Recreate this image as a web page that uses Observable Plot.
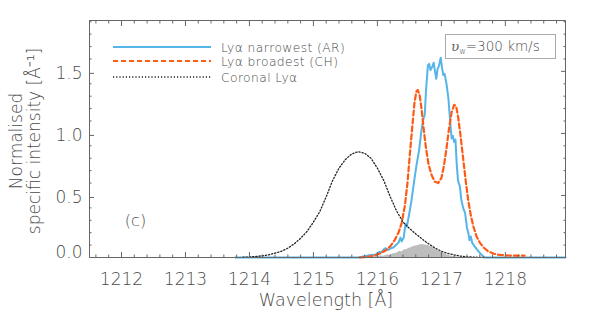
<!DOCTYPE html>
<html><head><meta charset="utf-8">
<script src="https://cdn.jsdelivr.net/npm/d3@7"></script>
<script src="https://cdn.jsdelivr.net/npm/@observablehq/plot@0.6"></script>
<style>body{margin:0;background:#fff}svg{display:block}svg text{font-weight:200}</style>
</head><body><div id="chart"></div>
<script>
// Lyα narrowest (AR) profile
const blueWl  = [1213.78,1215.70,1215.80,1215.90,1215.98,1216.03,1216.06,1216.10,1216.13,1216.17,1216.21,1216.25,1216.29,1216.33,1216.36,1216.38,1216.41,1216.44,1216.46,1216.49,1216.53,1216.57,1216.61,1216.65,1216.69,1216.72,1216.74,1216.76,1216.79,1216.81,1216.83,1216.86,1216.88,1216.90,1216.92,1216.94,1216.96,1216.99,1217.01,1217.03,1217.05,1217.08,1217.11,1217.14,1217.16,1217.18,1217.20,1217.22,1217.24,1217.26,1217.29,1217.31,1217.34,1217.37,1217.40,1217.42,1217.44,1217.46,1217.48,1217.52,1217.58,1217.64,1217.68,1218.94];
const blueVal = [0,0,0.01,0.02,0.025,0.045,0.04,0.065,0.075,0.06,0.075,0.08,0.10,0.12,0.16,0.13,0.16,0.27,0.25,0.33,0.45,0.60,0.74,0.86,1.03,1.12,1.15,1.35,1.55,1.56,1.51,1.54,1.57,1.50,1.44,1.52,1.54,1.61,1.53,1.47,1.48,1.40,1.28,1.08,0.96,0.98,0.93,0.95,0.75,0.62,0.57,0.47,0.40,0.36,0.24,0.20,0.14,0.17,0.12,0.09,0.05,0.015,0,0];
// Lyα broadest (CH) profile
const orangeWl  = [1215.72,1215.85,1215.95,1216.05,1216.13,1216.20,1216.27,1216.33,1216.38,1216.43,1216.47,1216.51,1216.55,1216.58,1216.61,1216.63,1216.66,1216.69,1216.72,1216.76,1216.80,1216.85,1216.90,1216.95,1217.00,1217.04,1217.08,1217.12,1217.16,1217.20,1217.23,1217.26,1217.30,1217.34,1217.38,1217.42,1217.46,1217.50,1217.55,1217.60,1217.66,1217.73,1217.82,1217.92,1218.05,1218.30];
const orangeVal = [0,0.005,0.015,0.035,0.057,0.09,0.14,0.20,0.28,0.42,0.60,0.85,1.08,1.25,1.34,1.35,1.31,1.20,1.05,0.88,0.75,0.66,0.61,0.60,0.64,0.74,0.88,1.04,1.17,1.23,1.22,1.14,0.98,0.80,0.62,0.46,0.34,0.25,0.17,0.12,0.08,0.05,0.03,0.02,0.016,0.015];
// Coronal Lyα profile
const coronaWl  = [1213.90,1214.00,1214.10,1214.20,1214.30,1214.40,1214.50,1214.60,1214.70,1214.80,1214.90,1215.00,1215.10,1215.20,1215.30,1215.40,1215.50,1215.60,1215.70,1215.80,1215.90,1216.00,1216.10,1216.20,1216.30,1216.40,1216.50,1216.60,1216.70,1216.80,1216.90,1217.00,1217.10,1217.20,1217.30,1217.40,1217.50,1217.60,1217.68];
const coronaVal = [0.002,0.004,0.008,0.014,0.022,0.035,0.05,0.075,0.11,0.155,0.21,0.285,0.37,0.49,0.62,0.72,0.79,0.835,0.853,0.84,0.80,0.72,0.62,0.49,0.375,0.286,0.235,0.19,0.148,0.11,0.077,0.05,0.033,0.021,0.011,0.006,0.003,0.001,0];
// Grey filled profile
const greyWl  = [1215.70,1215.80,1215.90,1216.00,1216.05,1216.10,1216.15,1216.20,1216.25,1216.30,1216.35,1216.38,1216.42,1216.46,1216.50,1216.54,1216.58,1216.62,1216.66,1216.70,1216.74,1216.78,1216.82,1216.86,1216.90,1216.95,1217.00,1217.05,1217.10,1217.15,1217.20,1217.30,1217.40];
const greyVal = [0,0.003,0.004,0.008,0.012,0.01,0.02,0.018,0.03,0.035,0.05,0.045,0.06,0.065,0.075,0.082,0.09,0.095,0.10,0.105,0.10,0.098,0.09,0.08,0.07,0.055,0.042,0.03,0.02,0.012,0.007,0.003,0];

const xTicks = [1212,1213,1214,1215,1216,1217,1218];
const yTicks = [0.5,1.0,1.5];
const yZero = [0];
const legendLabels = ["Lyα narrowest (AR)","Lyα broadest (CH)","Coronal Lyα"];
const boxLabel = "=300 km/s";
const panelLabel = "(c)";
const xTitle = "Wavelength [Å]";
const yTitle = ["Normalised","specific intensity [Å⁻¹]"];

const FONT = "'DejaVu Sans ExtraLight', 'DejaVu Sans'";
const pts = (w, v) => w.map((x, i) => ({x, y: v[i]}));
const xMinor = d3.range(1211.6, 1218.95, 0.2).filter(v => Math.abs(v - Math.round(v)) > 0.05);
const yMinor = d3.range(0.1, 1.91, 0.1).filter(v => Math.abs(v*2 - Math.round(v*2)) > 0.05);
const blank = () => "";
const tickCol = "#666";

const plot = Plot.plot({
  width: 598, height: 328,
  marginTop: 20, marginRight: 33, marginBottom: 71, marginLeft: 89,
  style: {fontFamily: FONT, fontSize: "17px", color: "#4a4a4a", background: "#fff"},
  x: {domain: [1211.5, 1218.94]},
  y: {domain: [0, 1.91]},
  marks: [
    Plot.areaY(pts(greyWl, greyVal), {x: "x", y: "y", fill: "#bdbdbd"}),
    Plot.line(pts(blueWl, blueVal), {x: "x", y: "y", stroke: "#56b4e9", strokeWidth: 2}),
    Plot.line(pts(orangeWl, orangeVal), {x: "x", y: "y", stroke: "#ff5a14", strokeWidth: 2.2, strokeDasharray: "5,3"}),
    Plot.line(pts(coronaWl, coronaVal), {x: "x", y: "y", stroke: "#222", strokeWidth: 1.3, strokeDasharray: "1.2,2"}),
    Plot.frame({stroke: tickCol}),
    Plot.axisX({anchor: "bottom", ticks: xTicks, tickSize: -5, tickPadding: 20, tickFormat: d => d.toFixed(0), label: null, stroke: tickCol}),
    Plot.axisX({anchor: "bottom", ticks: xMinor, tickSize: -2.5, tickFormat: blank, label: null, stroke: tickCol}),
    Plot.axisX({anchor: "top", ticks: xTicks, tickSize: -5, tickFormat: blank, label: null, stroke: tickCol}),
    Plot.axisX({anchor: "top", ticks: xMinor, tickSize: -2.5, tickFormat: blank, label: null, stroke: tickCol}),
    Plot.axisY({anchor: "left", ticks: yTicks, tickSize: -5, tickPadding: 12, dy: 2, tickFormat: d3.format(".1f"), label: null, stroke: tickCol}),
    Plot.axisY({anchor: "left", ticks: yZero, tickSize: 0, tickPadding: 7, dy: -5, tickFormat: d3.format(".1f"), label: null}),
    Plot.axisY({anchor: "left", ticks: yMinor, tickSize: -2.5, tickFormat: blank, label: null, stroke: tickCol}),
    Plot.axisY({anchor: "right", ticks: yTicks, tickSize: -5, tickFormat: blank, label: null, stroke: tickCol}),
    Plot.axisY({anchor: "right", ticks: yMinor, tickSize: -2.5, tickFormat: blank, label: null, stroke: tickCol})
  ]
});
document.getElementById("chart").append(plot);

const svg = d3.select(plot);
const g = svg.append("g").style("font-family", FONT).attr("fill", "#4a4a4a").attr("text-anchor", "start");
// legend
const legY = [47, 61, 77];
const legStyle = [
  {stroke: "#56b4e9", w: 2, dash: null},
  {stroke: "#ff5a14", w: 2.2, dash: "5,3"},
  {stroke: "#222", w: 1.3, dash: "1.2,2"}
];
legendLabels.forEach((t, i) => {
  g.append("line").attr("x1", 113).attr("x2", 211).attr("y1", legY[i]).attr("y2", legY[i])
    .attr("stroke", legStyle[i].stroke).attr("stroke-width", legStyle[i].w)
    .attr("stroke-dasharray", legStyle[i].dash);
  g.append("text").attr("x", 221).attr("y", legY[i] + 4.5).style("font-size", "12.3px")
    .style("letter-spacing", "0.4px").attr("text-anchor", "start").text(t);
});
// box
g.append("rect").attr("x", 445.5).attr("y", 34.5).attr("width", 110).attr("height", 24)
  .attr("fill", "none").attr("stroke", "#aaa");
const bt = g.append("text").attr("x", 451).attr("y", 51).style("font-size", "13.5px").attr("text-anchor", "start");
bt.append("tspan").style("font-family", "'DejaVu Serif', serif").style("font-style", "italic")
  .style("font-weight", "normal").attr("fill", "#666").text("υ");
bt.append("tspan").style("font-size", "8px").attr("dy", 3).text("w");
bt.append("tspan").attr("dy", -3).text(boxLabel);
// panel label
g.append("text").attr("x", 135.5).attr("y", 226).style("font-size", "16px").attr("text-anchor", "middle").text(panelLabel);
// axis titles
g.append("text").attr("x", 326).attr("y", 306).style("font-size", "17.5px").attr("text-anchor", "middle").text(xTitle);
g.append("text").attr("transform", "translate(22,141) rotate(-90)").style("font-size", "17px").attr("text-anchor", "middle").text(yTitle[0]);
g.append("text").attr("transform", "translate(40,141) rotate(-90)").style("font-size", "17px").attr("text-anchor", "middle").text(yTitle[1]);
</script></body></html>
